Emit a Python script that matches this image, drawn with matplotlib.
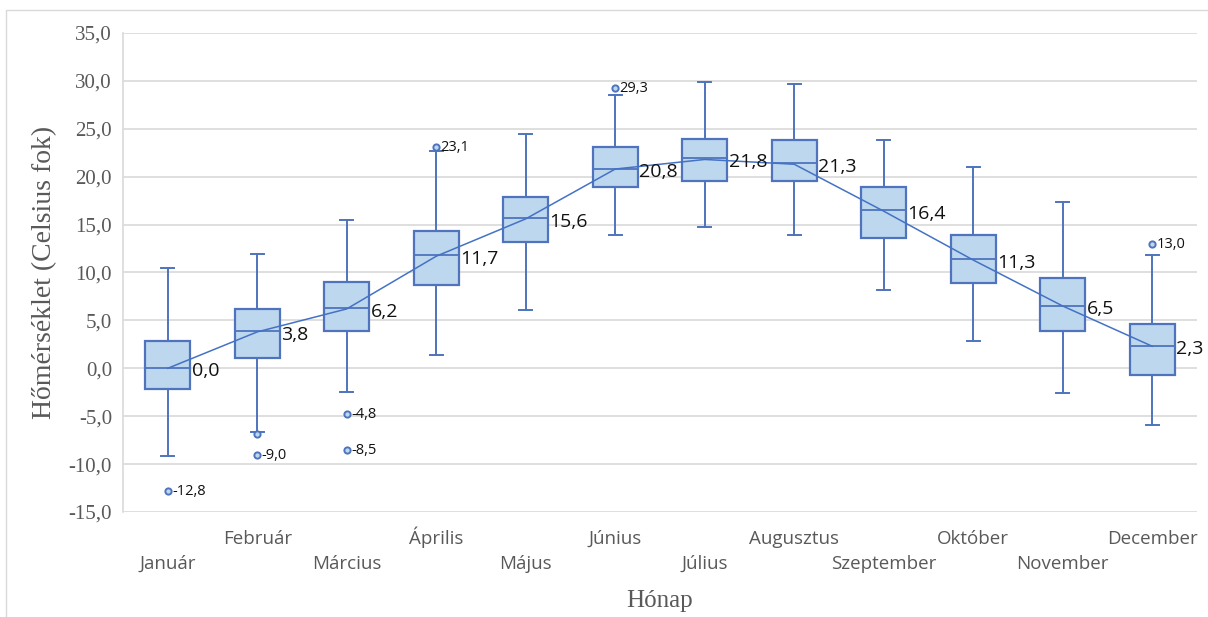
import matplotlib.pyplot as plt
from matplotlib.patches import Rectangle
from matplotlib.ticker import FuncFormatter

months = ["Január", "Február", "Március", "Április", "Május", "Június",
          "Július", "Augusztus", "Szeptember", "Október", "November", "December"]

whisker_low = [-9.2, -6.6, -2.5, 1.4, 6.1, 13.9, 14.7, 13.9, 8.2, 2.9, -2.6, -5.9]
q1 = [-2.2, 1.1, 3.9, 8.7, 13.2, 18.9, 19.6, 19.5, 13.6, 8.9, 3.9, -0.7]
median = [0.0, 3.9, 6.3, 11.8, 15.7, 20.8, 21.9, 21.4, 16.5, 11.4, 6.5, 2.3]
q3 = [2.9, 6.2, 9.0, 14.3, 17.9, 23.1, 23.9, 23.8, 18.9, 13.9, 9.4, 4.6]
whisker_high = [10.5, 11.9, 15.5, 22.7, 24.5, 28.5, 29.9, 29.7, 23.8, 21.0, 17.4, 11.8]
means = [0.0, 3.8, 6.2, 11.7, 15.6, 20.8, 21.8, 21.3, 16.4, 11.3, 6.5, 2.3]

# outliers: (month index, value, show label)
outliers = [(0, -12.8, True), (1, -6.9, False), (1, -9.0, True), (2, -4.8, True),
            (2, -8.5, True), (3, 23.1, True), (5, 29.3, True), (11, 13.0, True)]

EDGE = "#4f74bd"
FILL = "#bdd7ee"
LINE = "#4472c4"
GRID = "#d9d9d9"
TICK = "#595959"


def fmt(v):
    return f"{v:.1f}".replace(".", ",")


fig = plt.figure(figsize=(12.08, 6.17), dpi=100)
ax = fig.add_axes([123 / 1208, 1 - 512 / 617, (1197 - 123) / 1208, 479 / 617])

# thin border around the chart area
fig.patches.append(Rectangle((6 / 1208, -0.1), 1.2, 0.1 + 1 - 10 / 617,
                             transform=fig.transFigure, fill=False,
                             edgecolor=GRID, linewidth=1))

stats = []
for i in range(len(months)):
    stats.append({
        "whislo": whisker_low[i], "q1": q1[i], "med": median[i], "q3": q3[i],
        "whishi": whisker_high[i], "fliers": [v for j, v, _ in outliers if j == i],
    })

ax.bxp(stats, positions=range(len(months)), widths=0.5, patch_artist=True,
       capwidths=0.15,
       boxprops=dict(facecolor=FILL, edgecolor=EDGE, linewidth=1.6),
       medianprops=dict(color=EDGE, linewidth=1.3),
       whiskerprops=dict(color=EDGE, linewidth=1.4),
       capprops=dict(color=EDGE, linewidth=1.4),
       flierprops=dict(marker="o", markersize=4.5, markerfacecolor=FILL,
                       markeredgecolor=EDGE, markeredgewidth=1.4),
       zorder=3)

ax.plot(range(len(months)), means, color=LINE, linewidth=1.1, zorder=4)

for i, v in enumerate(means):
    ax.annotate(fmt(v), (i + 0.25, v), xytext=(1, -2), textcoords="offset points",
                ha="left", va="center", fontsize=14, family="Open Sans",
                color="#111111", zorder=5)

for i, v, show in outliers:
    if show:
        ax.annotate(fmt(v), (i, v), xytext=(3, -0.5), textcoords="offset points",
                    ha="left", va="center", fontsize=10.5, family="Open Sans",
                    color="#111111", zorder=5)

ax.set_xlim(-0.5, 11.5)
ax.set_ylim(-15, 35)
ax.set_yticks(range(-15, 36, 5))
ax.yaxis.set_major_formatter(FuncFormatter(lambda v, _: fmt(v)))
ax.grid(axis="y", color=GRID, linewidth=1.2, zorder=0)
ax.set_axisbelow(True)

for side in ["top", "right", "bottom"]:
    ax.spines[side].set_visible(False)
ax.spines["left"].set_color(GRID)
ax.spines["left"].set_linewidth(1.2)

ax.tick_params(axis="y", length=0, pad=8, labelcolor=TICK, labelsize=15)
for lab in ax.get_yticklabels():
    lab.set_family("Liberation Serif")

# staggered month names under the boxes, aligned on the baseline
ax.set_xticks(range(len(months)))
ax.set_xticklabels([])
ax.tick_params(axis="x", length=0)
for i, name in enumerate(months):
    y_off = -41 if i % 2 == 0 else -23
    ax.annotate(name, (i, -15), xytext=(0, y_off), textcoords="offset points",
                ha="center", va="baseline", fontsize=13.5, family="Open Sans",
                color=TICK)

ax.set_ylabel("Hőmérséklet (Celsius fok)", family="Liberation Serif", fontsize=20,
              color=TICK, labelpad=8)
fig.text((123 + 1197) / 2 / 1208, 1 - 601 / 617, "Hónap", ha="center", va="center",
         family="Liberation Serif", fontsize=18, color=TICK)

fig.savefig("out.png", dpi=100)
